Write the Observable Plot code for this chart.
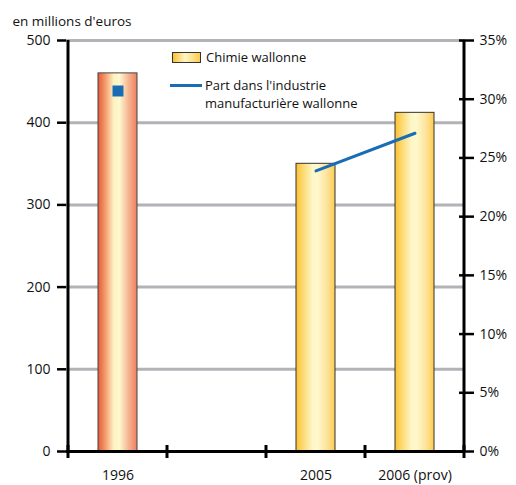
<!DOCTYPE html>
<html><head><meta charset="utf-8">
<script src="https://cdn.jsdelivr.net/npm/d3@7"></script>
<script src="https://cdn.jsdelivr.net/npm/@observablehq/plot@0.6"></script>
<style>
body{margin:0;background:#fff;font-family:"Open Sans",sans-serif;}
#wrap{position:relative;width:516px;height:485px;}
.leg{position:absolute;font-size:13px;color:#111;line-height:15px;white-space:nowrap;}
</style></head>
<body><div id="wrap"></div>
<script>
const categories = ["1996", "gap", "2005", "2006 (prov)"];
const tickLabels = {"1996": "1996", "gap": "", "2005": "2005", "2006 (prov)": "2006 (prov)"};
const barYears = ["1996", "2005", "2006 (prov)"];
const chimieValues = [460, 350, 412];          // en millions d'euros
const partYears = ["1996", "2005", "2006 (prov)"];
const partValues = [0.307, 0.239, 0.271];      // part dans l'industrie manufacturière
const leftTicks = [0, 100, 200, 300, 400, 500];
const rightTicks = [0, 0.05, 0.10, 0.15, 0.20, 0.25, 0.30, 0.35];
const yMax = 500, pMax = 0.35;

const bars = barYears.map((c, i) => ({cat: c, v: chimieValues[i]}));
const part = partYears.map((c, i) => ({cat: c, p: partValues[i], y: partValues[i] * yMax / pMax}));

const plot = Plot.plot({
  width: 516, height: 485,
  marginLeft: 66, marginRight: 51, marginTop: 40, marginBottom: 34,
  style: {fontFamily: "Open Sans, sans-serif", fontSize: "14px", color: "#111", background: "#fff"},
  x: {domain: categories, padding: 0, axis: null},
  y: {domain: [0, yMax], axis: null},
  marks: [
    Plot.gridY(leftTicks.filter(d => d > 0), {stroke: "#b1b3b6", strokeWidth: 3, strokeOpacity: 1}),
    Plot.barY(bars.filter(d => d.cat === "1996"), {x: "cat", y: "v", fill: "url(#gOrange)", stroke: "#444", strokeWidth: 1, insetLeft: 30, insetRight: 30}),
    Plot.barY(bars.filter(d => d.cat !== "1996"), {x: "cat", y: "v", fill: "url(#gYellow)", stroke: "#333", strokeWidth: 1, insetLeft: 30, insetRight: 30}),
    Plot.line(part.filter(d => d.cat !== "1996"), {x: "cat", y: "y", stroke: "#1a6cb4", strokeWidth: 3}),
    Plot.dot(part.filter(d => d.cat === "1996"), {x: "cat", y: "y", symbol: "square", r: 6.2, fill: "#1a6cb4", stroke: "none"}),
    Plot.axisY(leftTicks, {anchor: "left", tickSize: 9, tickPadding: 7, strokeWidth: 2.5, stroke: "#000", fontSize: 14, label: null}),
    Plot.axisY(rightTicks.map(p => p * yMax / pMax), {anchor: "right", tickSize: 8, tickPadding: 6, strokeWidth: 2.5, stroke: "#000", fontSize: 14, label: null,
      tickFormat: v => Math.round(v / yMax * pMax * 100) + "%"}),
    Plot.axisY(rightTicks.map(p => p * yMax / pMax), {anchor: "right", tickSize: 7, dx: -7, strokeWidth: 2.5, stroke: "#000", label: null, tickFormat: () => ""}),
    Plot.axisX(categories, {anchor: "bottom", tickSize: 0, tickPadding: 19, fontSize: 14, label: null, tickFormat: d => tickLabels[d]}),
    Plot.ruleY([0], {stroke: "#000", strokeWidth: 3}),
    Plot.text(["en millions d'euros"], {frameAnchor: "top-left", dx: -54, dy: -24, textAnchor: "start", fontSize: 13.5})
  ]
});

// gradients
const svg = d3.select(plot);
const defs = svg.insert("defs", ":first-child");
function grad(id, stops) {
  const g = defs.append("linearGradient").attr("id", id).attr("x1", 0).attr("x2", 1).attr("y1", 0).attr("y2", 0);
  stops.forEach(([o, c]) => g.append("stop").attr("offset", o).attr("stop-color", c));
}
grad("gOrange", [[0, "#e65a36"], [0.18, "#f3996a"], [0.4, "#fdf1c2"], [0.55, "#fef8cf"], [0.78, "#f6b592"], [1, "#ec8060"]]);
grad("gYellow", [[0, "#fdc130"], [0.2, "#fddc78"], [0.42, "#fdf6c6"], [0.55, "#fef8cd"], [0.8, "#fde29a"], [1, "#fdcd4c"]]);

// axis lines & boundary ticks computed from scales
const xs = plot.scale("x"), ys = plot.scale("y");
const y0 = ys.apply(0), yTop = ys.apply(yMax);
const starts = xs.domain.map(c => xs.apply(c));
const bounds = [...starts, starts[starts.length - 1] + xs.bandwidth];
const g = svg.append("g").attr("stroke", "#000");
g.append("line").attr("x1", bounds[0]).attr("x2", bounds[0]).attr("y1", yTop).attr("y2", y0).attr("stroke-width", 3);
g.append("line").attr("x1", bounds[bounds.length - 1]).attr("x2", bounds[bounds.length - 1]).attr("y1", yTop).attr("y2", y0).attr("stroke-width", 3);
bounds.forEach(b => g.append("line").attr("x1", b).attr("x2", b).attr("y1", y0 - 6).attr("y2", y0 + 7).attr("stroke-width", 3));

const wrap = document.getElementById("wrap");
wrap.appendChild(plot);
// legend
function legDiv(left, top, html) {
  const d = document.createElement("div");
  d.className = "leg"; d.style.left = left + "px"; d.style.top = top + "px";
  d.innerHTML = html; wrap.appendChild(d);
}
legDiv(172, 50, '<span style="display:inline-block;width:27px;height:9px;border:1px solid #333;background:linear-gradient(to right,#fdc130,#fdf6c6 45%,#fdcd4c);vertical-align:middle;margin-right:5px;position:relative;top:-1px"></span>Chimie wallonne');
legDiv(170, 78, '<span style="display:inline-block;width:32px;height:3px;background:#1a6cb4;vertical-align:middle;margin-right:3px;position:relative;top:-1px"></span>Part dans l\'industrie');
legDiv(205, 96, 'manufacturière wallonne');
</script></body></html>
